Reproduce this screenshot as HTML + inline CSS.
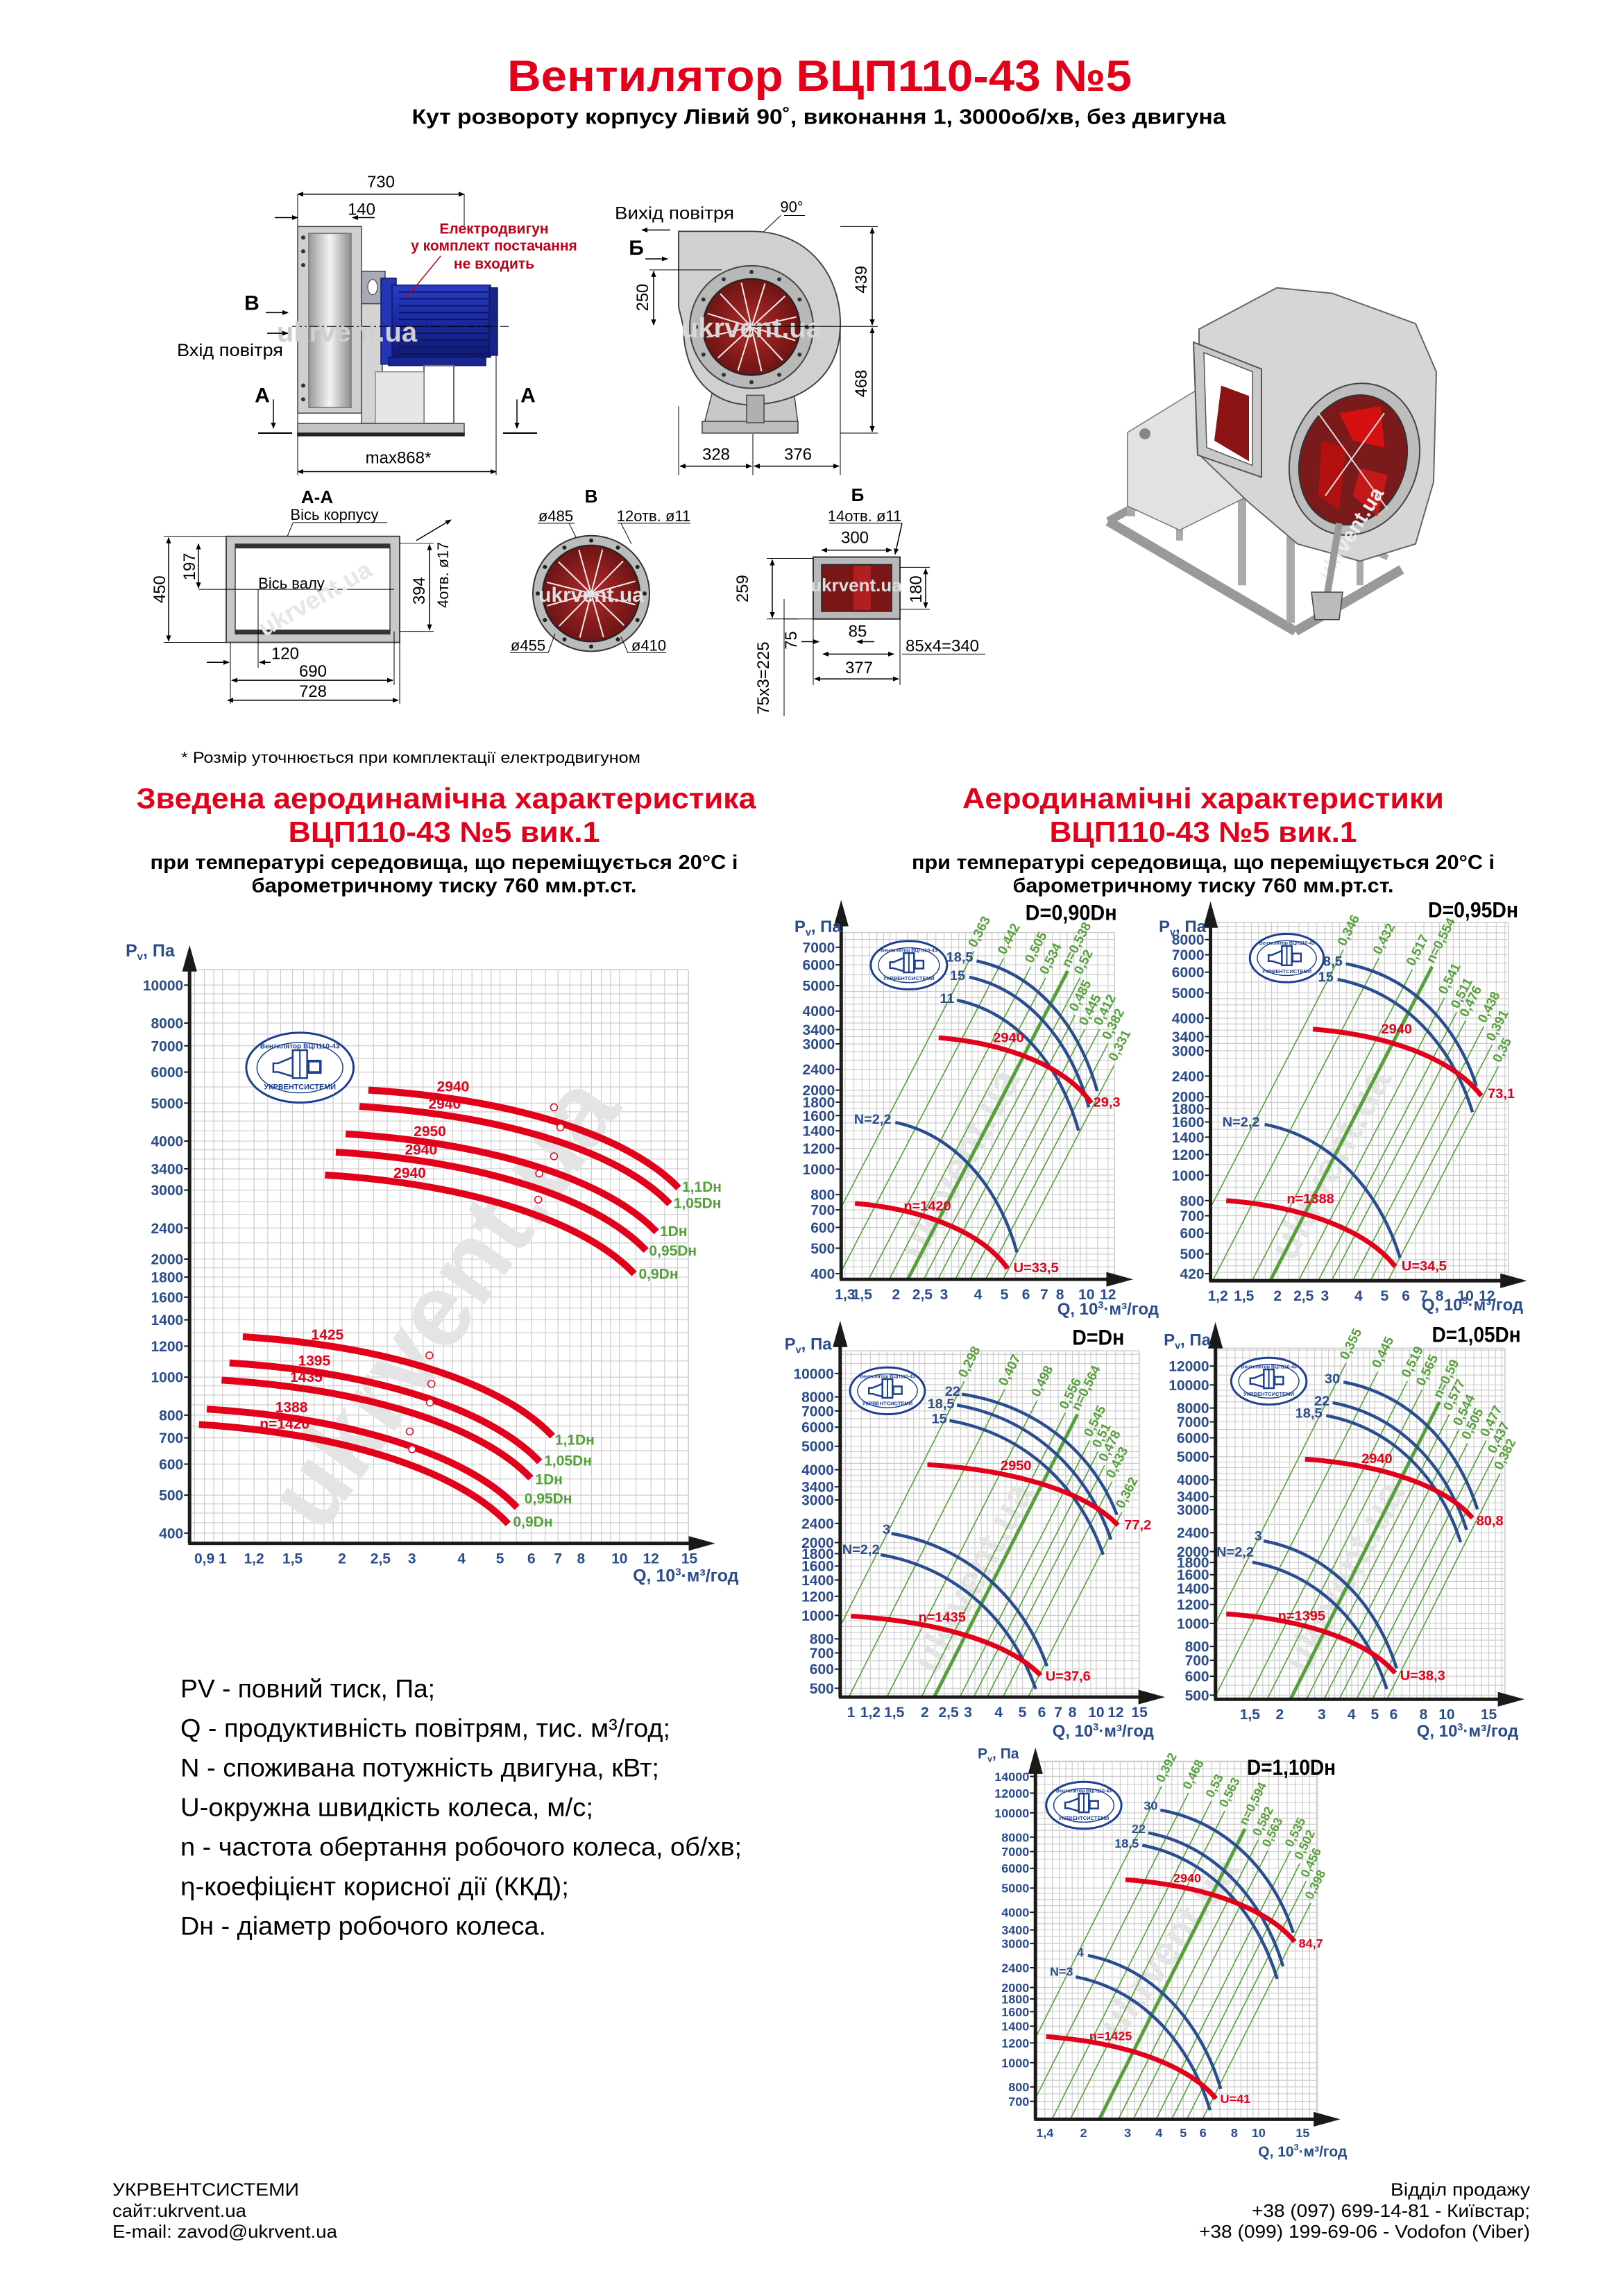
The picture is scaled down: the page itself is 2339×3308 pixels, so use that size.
<!DOCTYPE html>
<html><head><meta charset="utf-8"><style>
html,body{margin:0;padding:0;background:#fff}
svg{display:block}
</style></head><body>
<svg id="s" xmlns="http://www.w3.org/2000/svg" width="2339" height="3308" viewBox="0 0 2339 3308">
<defs>
<marker id="ar" viewBox="0 0 10 10" refX="9" refY="5" markerWidth="9" markerHeight="9" orient="auto-start-reverse" markerUnits="userSpaceOnUse"><path d="M0,1 L10,5 L0,9 Z" fill="#000"/></marker>
<linearGradient id="gf" x1="0" x2="1"><stop offset="0" stop-color="#9a9a9a"/><stop offset=".5" stop-color="#f4f4f4"/><stop offset="1" stop-color="#8d8d8d"/></linearGradient>
<linearGradient id="gm" x1="0" x2="0" y1="0" y2="1"><stop offset="0" stop-color="#2a3cc4"/><stop offset=".5" stop-color="#1a2aa0"/><stop offset="1" stop-color="#101a70"/></linearGradient>
<radialGradient id="gr"><stop offset="0" stop-color="#b02a2a"/><stop offset="1" stop-color="#6e1414"/></radialGradient>
</defs>
<rect width="2339" height="3308" fill="#fff"/>
<g id="g" transform="scale(1,0.992)"></g>
</svg>
<script>
const F='"Liberation Sans",sans-serif', FN='"Liberation Sans Narrow","Liberation Sans",sans-serif';
const RED='#e3001b', BLUE='#2a4d8f', TB='#2b4c8c', GR='#56a03c';
let o='';
function T(x,y,s,p={}){return `<text x="${x}" y="${y}" font-size="${p.size||20}" fill="${p.fill||'#000'}" font-family='${p.fam||F}' font-weight="${p.w||'normal'}" text-anchor="${p.a||'start'}"${p.len?` textLength="${p.len}" lengthAdjust="spacingAndGlyphs"`:''}${p.rot!==undefined?` transform="rotate(${p.rot} ${x} ${y})"`:''}>${s}</text>`;}
function L(x1,y1,x2,y2,c='#000',w=1,ex=''){return `<line x1="${x1}" y1="${y1}" x2="${x2}" y2="${y2}" stroke="${c}" stroke-width="${w}" ${ex}/>`;}
function D(x1,y1,x2,y2){return L(x1,y1,x2,y2,'#000',1.5,'marker-start="url(#ar)" marker-end="url(#ar)"');}
function P(pts,f,s='#444',w=1.5){return `<polygon points="${pts}" fill="${f}" stroke="${s}" stroke-width="${w}"/>`;}
function R(x,y,w,h,f,s='#444',sw=1.5){return `<rect x="${x}" y="${y}" width="${w}" height="${h}" fill="${f}" stroke="${s}" stroke-width="${sw}"/>`;}
function stamp(x1,y1,x2,y2){const cx=(x1+x2)/2,cy=(y1+y2)/2,rx=(x2-x1)/2,ry=(y2-y1)/2;
 let s=`<ellipse cx="${cx}" cy="${cy}" rx="${rx}" ry="${ry}" fill="#fff" stroke="#1d3f91" stroke-width="3"/>`;
 s+=`<ellipse cx="${cx}" cy="${cy}" rx="${rx*0.8}" ry="${ry*0.72}" fill="none" stroke="#1d3f91" stroke-width="1.5"/>`;
 const w=rx*0.9,h=ry*0.5;
 s+=`<rect x="${cx-w*0.15}" y="${cy-h}" width="${w*0.3}" height="${h*1.6}" fill="#fff" stroke="#1d3f91" stroke-width="2.5"/>`;
 s+=`<polygon points="${cx-w*0.15},${cy-h*0.6} ${cx-w*0.45},${cy-h*0.25} ${cx-w*0.55},${cy-h*0.25} ${cx-w*0.55},${cy+h*0.25} ${cx-w*0.45},${cy+h*0.25} ${cx-w*0.15},${cy+h*0.5}" fill="#fff" stroke="#1d3f91" stroke-width="2.5"/>`;
 s+=`<rect x="${cx+w*0.15}" y="${cy-h*0.45}" width="${w*0.3}" height="${h*0.8}" fill="#1d3f91"/>`;
 s+=`<rect x="${cx+w*0.2}" y="${cy-h*0.3}" width="${w*0.2}" height="${h*0.5}" fill="#fff"/>`;
 s+=L(cx,cy-h,cx,cy+h*0.6,'#1d3f91',2);
 s+=T(cx,cy-ry*0.55,'Вентилятор ВЦП110-43',{size:Math.max(7,rx*0.13),fill:'#1d3f91',a:'middle',w:'bold'});
 s+=T(cx,cy+ry*0.62,'УКРВЕНТСИСТЕМИ',{size:Math.max(7,rx*0.14),fill:'#1d3f91',a:'middle',w:'bold'});
 return s;}
function cv(x1,y1,x2,y2){const dx=x2-x1,dy=y2-y1;return `M${x1},${y1} C${x1+0.5*dx},${y1+0.1*dy} ${x2-0.15*dx},${y2-0.5*dy} ${x2},${y2}`;}
let cid=0;
function chart(c){
 const X=z=>c.x0+z*c.sx, Y=z=>c.y0+z*c.sy;
 const lx1=Math.log10(c.xl[0]),lx2=Math.log10(c.xl[2]);
 const qz=q=>c.xl[1]+(Math.log10(q)-lx1)/(lx2-lx1)*(c.xl[3]-c.xl[1]);
 const ly1=Math.log10(c.yl[0]),ly2=Math.log10(c.yl[2]);
 const pz=p=>c.yl[1]+(Math.log10(p)-ly1)/(ly2-ly1)*(c.yl[3]-c.yl[1]);
 const gl=X(c.ax),gr=X(c.gr),gt=Y(c.gt),gb=Y(c.ay);
 const M=[1,1.1,1.2,1.3,1.4,1.5,1.6,1.7,1.8,1.9,2,2.2,2.4,2.6,2.8,3,3.2,3.4,3.6,3.8,4,4.25,4.5,4.75,5,5.5,6,6.5,7,7.5,8,8.5,9,9.5];
 let s='';
 for(const d of [0.1,1,10,100])for(const m of M){const xx=X(qz(m*d));if(xx>gl+2&&xx<=gr+0.5)s+=L(xx.toFixed(1),gt,xx.toFixed(1),gb,'#cdcdcd',1.2);}
 for(const d of [100,1000,10000])for(const m of M){const yy=Y(pz(m*d));if(yy>=gt-0.5&&yy<gb-2)s+=L(gl,yy.toFixed(1),gr,yy.toFixed(1),'#cdcdcd',1.2);}
 s+=L(gr,gt,gr,gb,'#cdcdcd',1.5)+L(gl,gt,gr,gt,'#cdcdcd',1.5);
 const wc=c.wm;
 s+=T(wc[0],wc[1],'ukrvent.ua',{size:wc[2],fill:'#e4e4e4',w:'bold',a:'middle',rot:wc[3]});
 cid++;
 s+=`<clipPath id="cp${cid}"><rect x="${gl}" y="${gt-200}" width="${gr-gl}" height="${gb-gt+200}"/></clipPath>`;
 const xd=(c.xl[3]-c.xl[1])*c.sx/(lx2-lx1), yd=(c.yl[3]-c.yl[1])*c.sy/(ly1-ly2);
 const k=xd/(2*yd), ang=Math.atan2(-1,k)*180/Math.PI;
 if(c.green){let g='';for(const [lb,zx,zy,th] of c.green){const tx=X(zx),ty=Y(zy);const bx=tx-k*(gb-ty);
  g+=L(tx.toFixed(1),ty.toFixed(1),bx.toFixed(1),gb,GR,th?5:1.6);
  s+=T((tx+2).toFixed(1),(ty-4).toFixed(1),lb,{size:c.gs||19,fill:GR,w:'bold',fam:FN,rot:ang.toFixed(1)});}
  s+=`<g clip-path="url(#cp${cid})">${g}</g>`;}
 for(const b of (c.blue||[]))s+=`<path d="${cv(X(b[0]),Y(b[1]),X(b[2]),Y(b[3]))}" fill="none" stroke="${BLUE}" stroke-width="${c.bw||4.5}"/>`;
 for(const r of c.red)s+=`<path d="${cv(X(r[0]),Y(r[1]),X(r[2]),Y(r[3]))}" fill="none" stroke="${RED}" stroke-width="${c.rw||7}"/>`;
 for(const d of (c.dots||[]))s+=`<circle cx="${X(d[0])}" cy="${Y(d[1])}" r="5" fill="#fff" stroke="${RED}" stroke-width="1.5"/>`;
 for(const l of c.labels){s+=T(X(l[1]).toFixed(1),(Y(l[2])+(l[5]||c.ls||20)*0.36).toFixed(1),l[0],{size:l[5]||c.ls||20,fill:l[3],w:'bold',fam:c.lf||FN,a:l[4]||'middle'});}
 if(c.stamp){const q=c.stamp;s+=stamp(X(q[0]),Y(q[1]),X(q[2]),Y(q[3]));}
 const ax=gl, at=Y(c.atop), arr=X(c.aright);
 s+=L(ax,gb,ax,at+30,'#1a1a1a',5)+L(ax-2,gb,arr-30,gb,'#1a1a1a',5);
 s+=P(`${ax},${at} ${ax-10},${at+36} ${ax+10},${at+36}`,'#1a1a1a','#1a1a1a',1);
 s+=P(`${arr},${gb} ${arr-36},${gb-10} ${arr-36},${gb+10}`,'#1a1a1a','#1a1a1a',1);
 const tf=c.tf||FN, ts=c.ts||21;
 for(const p of c.yt){const yy=Y(pz(p));s+=L(ax-8,yy,ax,yy,'#1a1a1a',2);s+=T(ax-9,(yy+ts*0.36).toFixed(1),String(p),{size:ts,fill:TB,w:'bold',fam:tf,a:'end'});}
 for(const q of c.xt){const xx=X(qz(q));s+=T(xx.toFixed(1),gb+ts+8,String(q).replace('.',','),{size:ts,fill:TB,w:'bold',fam:tf,a:'middle'});}
 s+=`<text x="${X(c.pv[0])}" y="${Y(c.pv[1])+8}" font-size="${c.ps||24}" fill="${TB}" font-weight="bold" font-family='${tf}'>P<tspan font-size="${(c.ps||24)*0.6}" dy="5">v</tspan><tspan dy="-5">, Па</tspan></text>`;
 s+=`<text x="${X(c.q[0])}" y="${Y(c.q[1])+8}" font-size="${c.ps||24}" fill="${TB}" font-weight="bold" font-family='${tf}' text-anchor="end">Q, 10<tspan font-size="${(c.ps||24)*0.6}" dy="-9">3</tspan><tspan dy="9">·м³/год</tspan></text>`;
 if(c.title)s+=T(X(c.title[1]),Y(c.title[2])+11,c.title[0],{size:32,w:'bold',fam:FN,a:'end',len:c.title[3]});
 o+=s;
}
o+=T(1181,132,'Вентилятор ВЦП110-43 №5',{size:64,fill:RED,w:'bold',a:'middle',len:900});
o+=T(1180,180,'Кут розвороту корпусу Лівий 90˚, виконання 1, 3000об/хв, без двигуна',{size:31,w:'bold',a:'middle',len:1173,fam:FN});
// SIDE VIEW
o+=T(549,272,'730',{size:24,a:'middle'})+D(429,282,669,282);
o+=T(521,312,'140',{size:24,a:'middle'})+L(396,316,429,316,'#000',1.5,'marker-end="url(#ar)"')+L(540,316,508,316,'#000',1.5,'marker-end="url(#ar)"');
o+=L(429,282,429,690)+L(669,282,669,330)+L(715,440,715,690);
o+=R(429,329,92,271,'#cfcfcf')+R(445,339,61,253,'url(#gf)','#777');
for(let y of [345,365,385,560,580])o+=`<circle cx="437" cy="${y}" r="3" fill="#333"/>`;
o+=R(521,441,30,174,'#d4d4d4')+R(521,394,34,47,'#a9a9b8')+`<ellipse cx="537" cy="417" rx="7" ry="11" fill="#fff" stroke="#333"/>`;
o+=R(549,404,22,125,'#2435b5','#101860')+R(565,414,142,105,'url(#gm)','#101860')+R(705,418,12,98,'#18238a','#0d1450');
for(let y=424;y<515;y+=10)o+=L(575,y,703,y,'#0c1660',2);
o+=R(560,519,140,12,'#1a2590','#101860');
o+=R(611,531,43,84,'none','#666',2)+R(541,540,70,75,'#e6e6e6','#888');
o+=R(429,615,240,16,'#c4c4c4','#444')+R(429,629,240,4,'#222','#222');
o+=L(421,474,733,474,'#000',1,'stroke-dasharray="14 4 3 4"');
o+=T(500,496,'ukrvent.ua',{size:40,fill:'#cfcfcf',a:'middle',w:'bold'});
o+=T(712,339,'Електродвигун',{size:21,fill:'#c0001a',w:'bold',a:'middle',fam:FN});
o+=T(712,364,'у комплект постачання',{size:21,fill:'#c0001a',w:'bold',a:'middle',fam:FN});
o+=T(712,390,'не входить',{size:21,fill:'#c0001a',w:'bold',a:'middle',fam:FN});
o+=L(635,372,586,432,'#c0001a',1.5);
o+=T(363,450,'B',{size:30,w:'bold',a:'middle'})+L(383,454,415,454,'#000',1.5,'marker-end="url(#ar)"');
o+=L(385,484,415,484,'#000',1.5,'marker-end="url(#ar)"')+T(255,517,'Вхід повітря',{size:25,len:153});
o+=T(378,584,'A',{size:30,w:'bold',a:'middle'})+L(394,580,394,622,'#000',1.5,'marker-end="url(#ar)"')+L(372,629,421,629,'#000',2);
o+=T(761,584,'A',{size:30,w:'bold',a:'middle'})+L(745,580,745,622,'#000',1.5,'marker-end="url(#ar)"')+L(725,629,774,629,'#000',2);
o+=T(574,673,'max868*',{size:24,a:'middle'})+D(429,685,715,685);
// FRONT VIEW
o+=T(972,318,'Вихід повітря',{size:25,a:'middle',len:172});
o+=L(966,334,925,334,'#000',1.5,'marker-end="url(#ar)"');
o+=T(1141,308,'90°',{size:22,a:'middle'})+L(1125,313,1058,377,'#000',1)+L(1130,313,1160,313,'#000',1);
o+=T(917,370,'Б',{size:30,w:'bold',a:'middle'})+L(930,376,962,376,'#000',1.5,'marker-end="url(#ar)"');
o+=P('1027,568 1144,568 1150,615 1015,615','#c8c8c8')+R(1012,612,138,17,'#bcbcbc');
o+=`<path d="M978,336 L1083,336 C1165,336 1213,400 1211,475 C1209,545 1160,585 1083,588 C1020,588 985,540 985,475 L978,446 Z" fill="#d0d0d0" stroke="#444" stroke-width="2"/>`;
o+=`<circle cx="1083" cy="475" r="89" fill="#b8b8b8" stroke="#444" stroke-width="2"/><circle cx="1083" cy="475" r="70" fill="url(#gr)" stroke="#222" stroke-width="2"/>`;
for(let i=0;i<12;i++){const a=i*Math.PI/6;o+=`<circle cx="${(1083+80*Math.cos(a)).toFixed(1)}" cy="${(475+80*Math.sin(a)).toFixed(1)}" r="3" fill="#333"/>`;o+=L(1083,475,(1083+66*Math.cos(a+0.3)).toFixed(1),(475+66*Math.sin(a+0.3)).toFixed(1),'#eee',2);}
o+=R(1076,574,25,40,'#b0b0b0');
o+=T(1083,490,'ukrvent.ua',{size:40,fill:'#d8d8d8',a:'middle',w:'bold',fam:FN});
o+=L(1211,329,1265,329)+L(1211,629,1265,629)+L(1083,474,1265,474,'#000',1);
o+=D(1257,331,1257,472)+D(1257,476,1257,627);
o+=T(1249,406,'439',{size:24,a:'middle',rot:-90})+T(1249,557,'468',{size:24,a:'middle',rot:-90});
o+=L(936,392,1040,392,'#000',1)+D(942,394,942,472)+T(934,432,'250',{size:24,a:'middle',rot:-90});
o+=L(978,590,978,690)+L(1211,480,1211,690)+L(1085,630,1085,690);
o+=D(980,677,1083,677)+D(1087,677,1209,677);
o+=T(1032,668,'328',{size:24,a:'middle'})+T(1150,668,'376',{size:24,a:'middle'});
// 3D VIEW
o+=L(1597,757,1867,917,'#999',14)+L(1867,917,2020,827,'#999',14)+L(1597,757,1722,688,'#999',12)+L(1722,688,2000,810,'#aaa',8);
o+=L(1630,630,1630,750,'#aaa',12)+L(1700,640,1700,785,'#aaa',10)+L(1790,700,1790,850,'#aaa',12)+L(1860,740,1860,905,'#aaa',12)+L(1960,770,1960,850,'#aaa',10);
o+=P('1625,628 1735,560 1800,585 1800,720 1700,770 1625,735','#e2e2e2','#777');
o+=`<circle cx="1650" cy="630" r="8" fill="#888"/>`;
o+=P('1728,478 1840,418 1920,426 2040,470 2070,540 2066,700 2040,790 1960,815 1870,790 1800,730 1728,660','#d6d6d6','#666',2);
o+=P('1720,497 1818,536 1818,693 1726,661','#c9c9c9','#555',2)+P('1735,512 1805,540 1805,676 1739,650','#fff','#555',1.5)+P('1760,560 1800,575 1800,670 1750,640','#8c1414','none',0);
o+=`<ellipse cx="1952" cy="667" rx="92" ry="112" transform="rotate(18 1952 667)" fill="#bdbdbd" stroke="#444" stroke-width="2"/>`;
o+=`<ellipse cx="1950" cy="668" rx="76" ry="96" transform="rotate(18 1950 668)" fill="#7a1a1a" stroke="#333" stroke-width="2"/>`;
o+=P('1930,600 1990,590 1995,650 1950,640','#d41010','none',0)+P('1905,640 1940,650 1930,740 1900,720','#b31010','none',0)+P('1960,680 2000,690 1985,750 1950,720','#c51818','none',0);
o+=L(1900,600,2000,740,'#ddd',2)+L(1910,720,1995,600,'#ddd',2);
o+=T(1955,780,'ukrvent.ua',{size:30,fill:'#eee',a:'middle',w:'bold',rot:-58});
o+=L(1930,760,1910,880,'#999',10)+P('1890,860 1935,860 1930,900 1895,900','#bbb');
// SECTIONS
o+=T(457,731,'A-A',{size:26,w:'bold',a:'middle'});
o+=T(482,755,'Вісь корпусу',{size:22,a:'middle'})+L(422,759,558,759,'#000',1)+L(422,760,372,880,'#000',1);
o+=R(326,779,250,154,'#c8c8c8','#444',2)+R(339,795,223,122,'#fff','#444',1.5);
o+=R(339,790,223,6,'#333','#333',1)+R(339,915,223,6,'#333','#333',1);
o+=T(420,855,'Вісь валу',{size:22,a:'middle'})+L(286,856,568,856,'#000',1);
o+=T(460,880,'ukrvent.ua',{size:36,fill:'#e6e6e6',a:'middle',w:'bold',rot:-30});
o+=L(236,779,326,779,'#000',1)+L(236,933,326,933,'#000',1)+D(243,781,243,931)+T(238,856,'450',{size:24,a:'middle',rot:-90});
o+=D(286,790,286,854)+T(281,823,'197',{size:24,a:'middle',rot:-90});
o+=L(576,789,625,789,'#000',1)+L(576,917,625,917,'#000',1)+D(619,791,619,915)+T(612,858,'394',{size:24,a:'middle',rot:-90});
o+=T(646,835,'4отв. ø17',{size:22,a:'middle',rot:-90})+L(600,785,650,755,'#000',1.5,'marker-end="url(#ar)"');
o+=L(332,933,332,1022)+L(372,856,372,970)+L(576,933,576,1022)+L(568,917,568,995);
o+=L(298,962,330,962,'#000',1.5,'marker-end="url(#ar)"')+L(390,962,374,962,'#000',1.5,'marker-end="url(#ar)"')+T(411,957,'120',{size:24,a:'middle'});
o+=D(334,988,566,988)+T(451,983,'690',{size:24,a:'middle'});
o+=D(328,1017,574,1017)+T(451,1012,'728',{size:24,a:'middle'});
o+=T(852,730,'B',{size:26,w:'bold',a:'middle'});
o+=`<circle cx="852" cy="862" r="84" fill="#bcbcbc" stroke="#333" stroke-width="2"/><circle cx="852" cy="862" r="70" fill="url(#gr)" stroke="#222" stroke-width="2"/>`;
for(let i=0;i<12;i++){const a=i*Math.PI/6;o+=`<circle cx="${(852+77*Math.cos(a)).toFixed(1)}" cy="${(862+77*Math.sin(a)).toFixed(1)}" r="3" fill="#222"/>`;o+=L(852,862,(852+66*Math.cos(a+0.25)).toFixed(1),(862+66*Math.sin(a+0.25)).toFixed(1),'#eee',2);}
o+=T(852,874,'ukrvent.ua',{size:30,fill:'#e0e0e0',a:'middle',w:'bold',fam:FN});
o+=T(801,757,'ø485',{size:22,a:'middle'})+L(775,760,828,760,'#000',1)+L(820,760,830,780,'#000',1);
o+=T(942,757,'12отв. ø11',{size:22,a:'middle'})+L(890,760,995,760,'#000',1)+L(895,760,910,790,'#000',1);
o+=T(761,945,'ø455',{size:22,a:'middle'})+L(735,948,790,948,'#000',1)+L(790,948,800,920,'#000',1);
o+=T(935,945,'ø410',{size:22,a:'middle'})+L(905,948,960,948,'#000',1)+L(905,948,895,925,'#000',1);
o+=T(1236,728,'Б',{size:26,w:'bold',a:'middle'});
o+=T(1246,757,'14отв. ø11',{size:22,a:'middle'})+L(1195,760,1300,760,'#000',1)+L(1300,760,1290,805,'#000',1.5,'marker-end="url(#ar)"');
o+=T(1232,789,'300',{size:24,a:'middle'})+D(1184,799,1285,799);
o+=R(1172,809,125,90,'#b8b8b8','#333',2)+R(1184,820,101,68,'#7a1616','#222',1.5)+R(1230,822,25,64,'#b02020','none',0);
o+=T(1234,859,'ukrvent.ua',{size:26,fill:'#ddd',a:'middle',w:'bold',fam:FN});
o+=L(1105,811,1172,811,'#000',1)+L(1105,899,1172,899,'#000',1)+D(1113,813,1113,897)+T(1078,855,'259',{size:24,a:'middle',rot:-90});
o+=L(1297,824,1340,824,'#000',1)+L(1297,885,1340,885,'#000',1)+D(1334,826,1334,883)+T(1328,856,'180',{size:24,a:'middle',rot:-90});
o+=L(1130,870,1130,1040)+L(1172,899,1172,995)+L(1297,899,1297,995)+L(1130,899,1150,899,'#000',1);
o+=L(1155,932,1180,932,'#000',1.5,'marker-end="url(#ar)"')+T(1236,925,'85',{size:24,a:'middle'})+L(1260,932,1235,932,'#000',1.5,'marker-end="url(#ar)"');
o+=T(1148,930,'75',{size:24,a:'middle',rot:-90});
o+=D(1186,950,1288,950)+T(1358,946,'85x4=340',{size:24,a:'middle'})+L(1300,950,1420,950,'#000',1);
o+=D(1174,986,1295,986)+T(1238,978,'377',{size:24,a:'middle'});
o+=T(1108,985,'75x3=225',{size:24,a:'middle',rot:-90});
o+=T(261,1108,'* Розмір уточнюється при комплектації електродвигуном',{size:22,len:662});
// HEADINGS
o+=T(643,1174,'Зведена аеродинамічна характеристика',{size:42,fill:RED,w:'bold',a:'middle',len:893});
o+=T(640,1223,'ВЦП110-43 №5 вик.1',{size:42,fill:RED,w:'bold',a:'middle',len:449});
o+=T(640,1262,'при температурі середовища, що переміщується 20°С і',{size:29,w:'bold',a:'middle',len:847,fam:FN});
o+=T(640,1296,'барометричному тиску 760 мм.рт.ст.',{size:29,w:'bold',a:'middle',len:555,fam:FN});
o+=T(1734,1174,'Аеродинамічні характеристики',{size:42,fill:RED,w:'bold',a:'middle',len:694});
o+=T(1734,1223,'ВЦП110-43 №5 вик.1',{size:42,fill:RED,w:'bold',a:'middle',len:443});
o+=T(1734,1262,'при температурі середовища, що переміщується 20°С і',{size:29,w:'bold',a:'middle',len:840,fam:FN});
o+=T(1734,1296,'барометричному тиску 760 мм.рт.ст.',{size:29,w:'bold',a:'middle',len:549,fam:FN});
// CHARTS
chart({x0:0,y0:1300,sx:1100/1550,sy:1050/1550,ax:385,ay:1390,gr:1398,gt:160,atop:110,aright:1450,
 xl:[1,452,10,1258],yl:[10000,193,400,1368],ts:21,tf:F,ps:25,ls:21,lf:F,rw:10,
 yt:[10000,8000,7000,6000,5000,4000,3400,3000,2400,2000,1800,1600,1400,1200,1000,800,700,600,500,400],
 xt:[0.9,1,1.2,1.5,2,2.5,3,4,5,6,7,8,10,12,15],
 wm:[680,1920,150,-55],
 red:[[748,418,1378,628],[730,453,1360,662],[702,512,1333,722],[682,551,1312,762],[660,600,1288,812],[493,947,1122,1160],[466,1003,1096,1215],[450,1040,1078,1250],[420,1102,1050,1313],[404,1135,1032,1348]],
 dots:[[1125,455],[1138,498],[1125,560],[1095,597],[1093,653],[872,987],[876,1048],[873,1088],[832,1150],[837,1188]],
 labels:[['2940',920,410,RED],['2940',903,447,RED],['2950',873,506,RED],['2940',855,545,RED],['2940',832,595,RED],['1425',665,942,RED],['1395',638,998,RED],['1435',622,1033,RED],['1388',592,1097,RED],['n=1420',578,1133,RED],
 ['1,1Dн',1385,625,GR,'start'],['1,05Dн',1368,660,GR,'start'],['1Dн',1340,720,GR,'start'],['0,95Dн',1318,762,GR,'start'],['0,9Dн',1297,812,GR,'start'],
 ['1,1Dн',1127,1167,GR,'start'],['1,05Dн',1105,1212,GR,'start'],['1Dн',1087,1252,GR,'start'],['0,95Dн',1065,1293,GR,'start'],['0,9Dн',1042,1343,GR,'start']],
 stamp:[500,295,718,445],pv:[255,120],q:[1500,1460]});
const s2={sx:1100/1550,sy:640/1550,x0:1120,y0:1280};
chart(Object.assign({},s2,{ax:130,ay:1400,gr:685,gt:180,atop:70,aright:720,xl:[1.3,138,10,628],yl:[7000,232,400,1380],
 yt:[7000,6000,5000,4000,3400,3000,2400,2000,1800,1600,1400,1200,1000,800,700,600,500,400],xt:[1.3,1.5,2,2.5,3,4,5,6,7,8,10,12],
 wm:[1400,1700,60,-62],
 red:[[328,550,638,780],[158,1133,468,1362]],blue:[[405,280,650,738],[390,337,633,795],[365,418,612,877],[240,848,487,1305]],
 labels:[['2940',470,548,RED],['29,3',642,775,RED,'start'],['n=1420',305,1140,RED],['U=33,5',480,1358,RED,'start'],['18,5',398,265,BLUE,'end'],['15',382,330,BLUE,'end'],['11',360,410,BLUE,'end'],['N=2,2',232,835,BLUE,'end']],
 green:[['0,363',400,245],['0,442',460,270],['0,505',515,300],['0,534',545,340],['n=0,538',590,315,1],['0,52',615,340],['0,485',605,470],['0,445',625,520],['0,412',655,520],['0,382',672,570],['0,331',685,645]],
 title:['D=0,90Dн',690,110,132],pv:[35,160],q:[775,1505],stamp:[190,210,345,380]}));
chart(Object.assign({},s2,{ax:880,ay:1405,gr:1485,gt:145,atop:75,aright:1520,xl:[1.2,895,10,1398],yl:[8000,205,420,1380],
 yt:[8000,7000,6000,5000,4000,3400,3000,2400,2000,1800,1600,1400,1200,1000,800,700,600,500,420],xt:[1.2,1.5,2,2.5,3,4,5,6,7,8,10,12],
 wm:[1935,1700,60,-62],
 red:[[1088,520,1430,755],[912,1123,1255,1355]],blue:[[1155,290,1420,720],[1138,345,1412,812],[990,855,1265,1325]],
 labels:[['2940',1258,518,RED],['73,1',1443,745,RED,'start'],['n=1388',1083,1115,RED],['U=34,5',1268,1352,RED,'start'],['18,5',1148,280,BLUE,'end'],['15',1130,335,BLUE,'end'],['N=2,2',980,845,BLUE,'end']],
 green:[['0,346',1150,240],['0,432',1222,270],['0,517',1290,310],['n=0,554',1330,300,1],['0,541',1355,410],['0,511',1380,460],['0,476',1398,490],['0,438',1435,510],['0,391',1452,575],['0,35',1465,650]],
 title:['D=0,95Dн',1505,100,130],pv:[775,160],q:[1515,1490],stamp:[960,185,1110,355]}));
const s4={sx:1100/1550,sy:620/1550,x0:1120,y0:1920};
chart(Object.assign({},s4,{ax:128,ay:1362,gr:735,gt:105,atop:0,aright:785,xl:[1,150,10,648],yl:[10000,187,500,1330],
 yt:[10000,8000,7000,6000,5000,4000,3400,3000,2400,2000,1800,1600,1400,1200,1000,800,700,600,500],xt:[1,1.2,1.5,2,2.5,3,4,5,6,7,8,10,12,15],
 wm:[1420,2300,60,-62],
 red:[[305,518,692,738],[150,1068,535,1283]],blue:[[375,262,690,700],[365,302,678,790],[350,358,662,845],[232,768,548,1250],[210,845,525,1333]],
 labels:[['2950',485,520,RED],['77,2',705,735,RED,'start'],['n=1435',335,1070,RED],['U=37,6',545,1285,RED,'start'],['22',372,250,BLUE,'end'],['18,5',360,295,BLUE,'end'],['15',345,350,BLUE,'end'],['3',230,752,BLUE,'end'],['N=2,2',208,825,BLUE,'end']],
 green:[['0,298',380,215],['0,407',462,245],['0,498',528,285],['0,556',585,330],['n=0,564',610,335,1],['0,545',635,430],['0,51',652,470],['0,478',665,520],['0,433',680,580],['0,362',700,690]],
 title:['D=Dн',705,55,75],pv:[15,80],q:[765,1485],stamp:[148,165,300,335]}));
chart(Object.assign({},s4,{ax:890,ay:1370,gr:1478,gt:95,atop:5,aright:1515,xl:[1.5,960,15,1445],yl:[12000,160,500,1355],
 yt:[12000,10000,8000,7000,6000,5000,4000,3400,3000,2400,2000,1800,1600,1400,1200,1000,800,700,600,500],xt:[1.5,2,3,4,5,6,8,10,15],
 wm:[1955,2300,60,-62],
 red:[[1072,498,1412,712],[912,1060,1255,1275]],blue:[[1150,218,1422,680],[1128,293,1400,755],[1115,340,1388,800],[988,795,1258,1258],[965,872,1238,1333]],
 labels:[['2940',1218,495,RED],['80,8',1420,720,RED,'start'],['n=1395',1065,1065,RED],['U=38,3',1265,1282,RED,'start'],['30',1143,205,BLUE,'end'],['22',1122,285,BLUE,'end'],['18,5',1107,330,BLUE,'end'],['3',985,775,BLUE,'end'],['N=2,2',968,833,BLUE,'end']],
 green:[['0,355',1155,150],['0,445',1220,180],['0,519',1280,215],['0,565',1310,245],['n=0,59',1345,290,1],['0,577',1365,335],['0,544',1385,390],['0,505',1402,440],['0,477',1440,430],['0,437',1455,490],['0,382',1468,550]],
 title:['D=1,05Dн',1510,45,128],pv:[785,65],q:[1505,1485],stamp:[922,130,1075,300]}));
chart({sx:600/1550,sy:620/1550,x0:1380,y0:2540,ax:290,ay:1345,gr:1340,gt:45,atop:0,aright:1420,xl:[1.4,325,15,1285],yl:[14000,100,700,1280],
 ts:18,tf:F,ps:21,ls:18,lf:F,gs:18,
 yt:[14000,12000,10000,8000,7000,6000,5000,4000,3400,3000,2400,2000,1800,1600,1400,1200,1000,800,700],xt:[1.4,2,3,4,5,6,8,10,15],
 wm:[1700,2840,60,-55],
 red:[[625,475,1255,700],[330,1045,962,1270]],blue:[[755,222,1250,668],[710,305,1212,790],[688,350,1190,835],[485,750,980,1235],[440,828,940,1312]],
 labels:[['2940',855,468,RED],['84,7',1270,705,RED,'start'],['n=1425',570,1042,RED],['U=41',978,1270,RED,'start'],['30',745,205,BLUE,'end'],['22',700,290,BLUE,'end'],['18,5',675,342,BLUE,'end'],['4',470,738,BLUE,'end'],['N=3',430,808,BLUE,'end']],
 green:[['0,392',760,135],['0,468',860,160],['0,53',945,190],['0,563',995,225],['n=0,594',1070,290,1],['0,582',1120,330],['0,563',1155,370],['0,535',1240,370],['0,502',1275,415],['0,456',1298,480],['0,398',1315,560]],
 title:['D=1,10Dн',1408,67,128],pv:[75,15],q:[1450,1460],stamp:[330,120,610,290]});
// LEGEND
const leg=[['PV - повний тиск, Па;',367],['Q - продуктивність повітрям, тис. м³/год;',706],['N - споживана потужність двигуна, кВт;',690],['U-окружна швидкість колеса, м/с;',595],['n - частота обертання робочого колеса, об/хв;',809],['η-коефіцієнт корисної дії (ККД);',560],['Dн - діаметр робочого колеса.',527]];
leg.forEach((l,i)=>{o+=T(260,2465+i*57.5,l[0],{size:37,len:l[1]});});
// FOOTER
o+=T(162,3189,'УКРВЕНТСИСТЕМИ',{size:26,len:269});
o+=T(162,3220,'сайт:ukrvent.ua',{size:26,len:193});
o+=T(162,3250,'E-mail: zavod@ukrvent.ua',{size:26,len:324});
o+=T(2205,3189,'Відділ продажу',{size:26,a:'end',len:201});
o+=T(2205,3220,'+38 (097) 699-14-81 - Київстар;',{size:26,a:'end',len:401});
o+=T(2205,3250,'+38 (099) 199-69-06 - Vodofon (Viber)',{size:26,a:'end',len:477});
document.getElementById('g').insertAdjacentHTML('beforeend',o);
</script>
</body></html>
